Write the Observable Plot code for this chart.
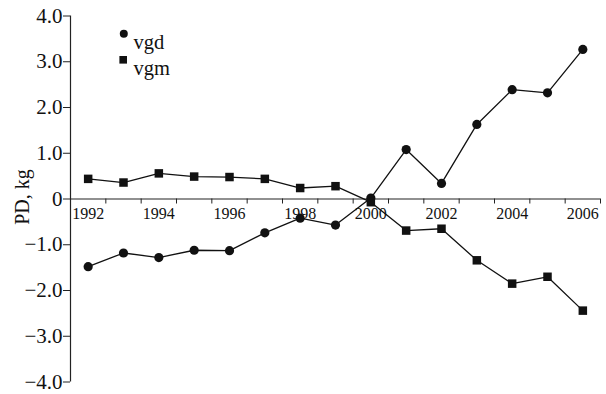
<!DOCTYPE html>
<html><head><meta charset="utf-8">
<script src="https://cdn.jsdelivr.net/npm/d3@7"></script>
<script src="https://cdn.jsdelivr.net/npm/@observablehq/plot@0.6"></script>
<style>body{margin:0;background:#fff} svg{display:block}</style>
</head><body><div id="chart"></div>
<script>
const years = [1992,1993,1994,1995,1996,1997,1998,1999,2000,2001,2002,2003,2004,2005,2006];
const vgd = [-1.48,-1.18,-1.28,-1.12,-1.13,-0.74,-0.42,-0.57,0.02,1.08,0.34,1.63,2.39,2.32,3.27];
const vgm = [0.44,0.36,0.56,0.49,0.48,0.44,0.24,0.28,-0.07,-0.69,-0.65,-1.34,-1.85,-1.70,-2.44];
const yTicks = [-4,-3,-2,-1,0,1,2,3,4];
const xLabels = [1992,1994,1996,1998,2000,2002,2004,2006];
const xTickMarks = [1992.5,1993.5,1994.5,1995.5,1996.5,1997.5,1998.5,1999.5,2000.5,2001.5,2002.5,2003.5,2004.5,2005.5,2006.5];
const xDomain = [1991.5, 2006.5];
const yDomain = [-4, 4];
const seriesNames = ["vgd","vgm"];
const yLabel = "PD, kg";

const rowsD = years.map((yr,i)=>({year:yr, value:vgd[i]}));
const rowsM = years.map((yr,i)=>({year:yr, value:vgm[i]}));
const serif = "'Liberation Serif','Times New Roman',Times,serif";
const fmt = d => d === 0 ? "0" : (d < 0 ? "\u2212" : "") + Math.abs(d).toFixed(1);

const chart = Plot.plot({
  width: 606, height: 394,
  marginLeft: 70, marginRight: 6, marginTop: 15.5, marginBottom: 12.5,
  style: {fontFamily: serif, background: "#fff", color: "#111"},
  x: {domain: xDomain, axis: null},
  y: {domain: yDomain, axis: null},
  marks: [
    Plot.ruleX([xDomain[0]], {y1: yDomain[0], y2: yDomain[1], stroke: "#222", strokeWidth: 1.2}),
    Plot.axisY({ticks: yTicks, tickSize: 7, tickPadding: 1, tickFormat: fmt, fontSize: 21, label: null, stroke: "#222"}),
    Plot.ruleY([0], {x1: xDomain[0], x2: xDomain[1], stroke: "#222", strokeWidth: 1.2}),
    Plot.ruleX(xTickMarks, {x: d => d, y1: 0, y2: 0, insetBottom: -5, stroke: "#222"}),
    Plot.text(xLabels, {x: d => d, y: 0, text: d => String(d), fontSize: 16, lineAnchor: "top", dy: 9, fill: "#111"}),
    Plot.text([yLabel], {x: xDomain[0], y: 0, text: d => d, rotate: -90, fontSize: 20, dx: -47.5, dy: -2, fill: "#111"}),
    Plot.line(rowsD, {x: "year", y: "value", stroke: "#111", strokeWidth: 1.3}),
    Plot.line(rowsM, {x: "year", y: "value", stroke: "#111", strokeWidth: 1.3}),
    Plot.dot(rowsD, {x: "year", y: "value", r: 4.6, fill: "#111", symbol: "circle"}),
    Plot.dot(rowsM, {x: "year", y: "value", r: 4.8, fill: "#111", symbol: "square"}),
    Plot.dot([seriesNames[0]], {frameAnchor: "top-left", dx: 53.3, dy: 17.8, r: 4, fill: "#111", symbol: "circle"}),
    Plot.dot([seriesNames[1]], {frameAnchor: "top-left", dx: 52.7, dy: 43.8, r: 4.3, fill: "#111", symbol: "square"}),
    Plot.text([seriesNames[0]], {frameAnchor: "top-left", text: d => d, dx: 63, dy: 18.5, textAnchor: "start", fontSize: 20.5, fill: "#111"}),
    Plot.text([seriesNames[1]], {frameAnchor: "top-left", text: d => d, dx: 63, dy: 44.5, textAnchor: "start", fontSize: 20.5, fill: "#111"})
  ]
});
document.getElementById("chart").append(chart);
</script>
</body></html>
